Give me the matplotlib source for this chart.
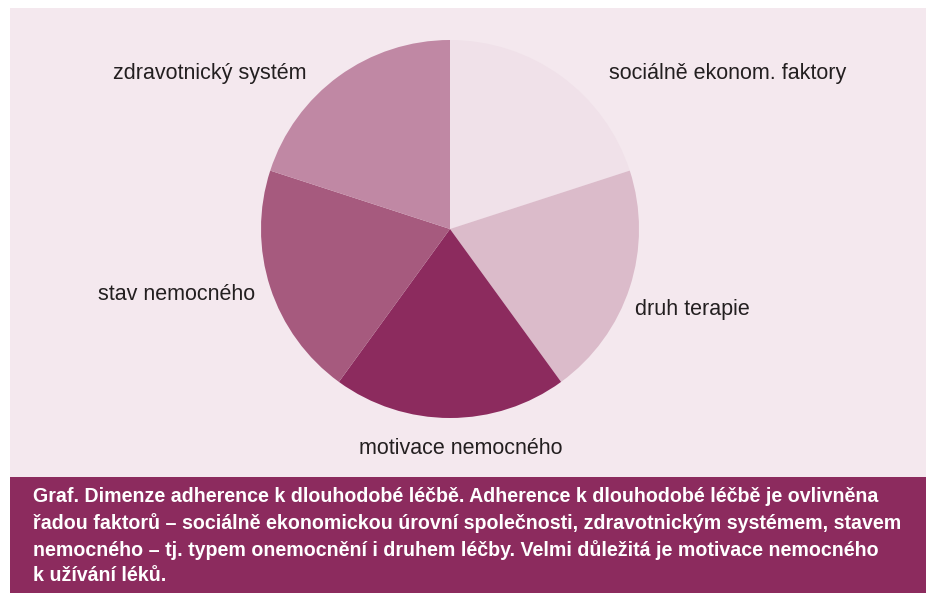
import matplotlib
matplotlib.use("Agg")
import matplotlib.pyplot as plt
from matplotlib.patches import Rectangle

plt.rcParams['font.family'] = ['Liberation Sans', 'DejaVu Sans']

categories = ["sociálně ekonom. faktory", "druh terapie", "motivace nemocného",
              "stav nemocného", "zdravotnický systém"]
values = [1, 1, 1, 1, 1]
colors = ["#F0E1E9", "#DBBBCA", "#8C2B5E", "#A65A7E", "#C088A4"]
caption_lines = [
    "Graf. Dimenze adherence k dlouhodobé léčbě. Adherence k dlouhodobé léčbě je ovlivněna",
    "řadou faktorů – sociálně ekonomickou úrovní společnosti, zdravotnickým systémem, stavem",
    "nemocného – tj. typem onemocnění i druhem léčby. Velmi důležitá je motivace nemocného",
    "k užívání léků.",
]
# label centre positions in pixel coordinates (x from left, y from top)
label_px = [(728, 74), (692, 309), (461, 448), (177, 294), (210, 74)]

W, H = 926, 593
fig = plt.figure(figsize=(W / 100, H / 100), dpi=100)
fig.patch.set_facecolor("white")

def fx(x):
    return x / W

def fy(y):
    return 1 - y / H

# background axes for panels
bg = fig.add_axes([0, 0, 1, 1], zorder=-1)
bg.set_xlim(0, W)
bg.set_ylim(H, 0)
bg.axis("off")
bg.add_patch(Rectangle((10, 8), W - 10, 477 - 8, facecolor="#F4E8EE", edgecolor="none"))
bg.add_patch(Rectangle((10, 477), W - 10, H - 477, facecolor="#8C2B5E", edgecolor="none"))

cx, cy, r = 450, 229, 189
ax = fig.add_axes([fx(cx - r), fy(cy + r), 2 * r / W, 2 * r / H], zorder=1)
ax.pie(values, colors=colors, startangle=90, counterclock=False, radius=1,
       wedgeprops=dict(linewidth=0))
ax.set_xlim(-1, 1)
ax.set_ylim(-1, 1)
ax.set_aspect("equal")
ax.axis("off")

for lab, (px, py) in zip(categories, label_px):
    fig.text(fx(px), fy(py), lab, ha="center", va="center", fontsize=15.5,
             color="#231F20")

for i, line in enumerate(caption_lines):
    fig.text(fx(33), fy(497 + i * 26.3), line, ha="left", va="center",
             fontsize=14.1, fontweight="bold", color="white")

fig.savefig("out.png", dpi=100, facecolor="white")
